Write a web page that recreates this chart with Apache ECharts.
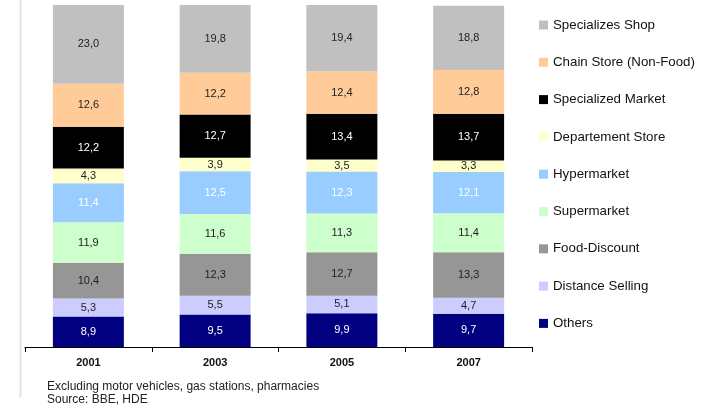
<!DOCTYPE html>
<html>
<head>
    <meta charset="utf-8">
    <title>Retail shares</title>
    <script src="https://cdn.jsdelivr.net/npm/echarts@6/dist/echarts.min.js"></script>
    <style>
        html, body { margin: 0; padding: 0; background: #fff; }
        #chart { width: 709px; height: 409px; }
    </style>
</head>
<body>
    <div id="chart"></div>
    <script>
        const years = ['2001', '2003', '2005', '2007'];
        // series, bottom of the stack first
        const others          = [8.9, 9.5, 9.9, 9.7];
        const distanceSelling = [5.3, 5.5, 5.1, 4.7];
        const foodDiscount    = [10.4, 12.3, 12.7, 13.3];
        const supermarket     = [11.9, 11.6, 11.3, 11.4];
        const hypermarket     = [11.4, 12.5, 12.3, 12.1];
        const departementStore = [4.3, 3.9, 3.5, 3.3];
        const specializedMarket = [12.2, 12.7, 13.4, 13.7];
        const chainStore      = [12.6, 12.2, 12.4, 12.8];
        const specializesShop = [23.0, 19.8, 19.4, 18.8];

        const seriesDefs = [
            { name: 'Others', data: others, color: '#000080', label: '#fff' },
            { name: 'Distance Selling', data: distanceSelling, color: '#CCCCFF', label: '#222' },
            { name: 'Food-Discount', data: foodDiscount, color: '#969696', label: '#222' },
            { name: 'Supermarket', data: supermarket, color: '#CCFFCC', label: '#222' },
            { name: 'Hypermarket', data: hypermarket, color: '#99CCFF', label: '#fff' },
            { name: 'Departement Store', data: departementStore, color: '#FFFFCC', label: '#222' },
            { name: 'Specialized Market', data: specializedMarket, color: '#000000', label: '#fff' },
            { name: 'Chain Store (Non-Food)', data: chainStore, color: '#FFCC99', label: '#222' },
            { name: 'Specializes Shop', data: specializesShop, color: '#C0C0C0', label: '#222' }
        ];

        const chart = echarts.init(document.getElementById('chart'));
        const option = {
            animation: false,
            textStyle: { fontFamily: 'Liberation Sans, Arial, sans-serif' },
            grid: { left: 25, right: 177, top: 5, bottom: 62, containLabel: false },
            legend: {
                orient: 'vertical',
                left: 539,
                top: 18,
                padding: 0,
                itemWidth: 9,
                itemHeight: 9,
                itemGap: 23.3,
                icon: 'rect',
                data: seriesDefs.map(s => s.name).reverse(),
                textStyle: { fontSize: 13.3, color: '#111', lineHeight: 14 }
            },
            xAxis: {
                type: 'category',
                data: years,
                axisLine: { lineStyle: { color: '#000', width: 1 } },
                axisTick: { show: true, length: 5, lineStyle: { color: '#000' } },
                axisLabel: { fontSize: 11, fontWeight: 'bold', color: '#111', margin: 10 }
            },
            yAxis: {
                type: 'value',
                min: 0,
                max: 100,
                show: false,
                splitLine: { show: false }
            },
            series: seriesDefs.map(s => ({
                name: s.name,
                type: 'bar',
                stack: 'total',
                barWidth: '56%',
                data: s.data,
                itemStyle: { color: s.color },
                label: {
                    show: true,
                    position: 'inside',
                    fontSize: 11,
                    color: s.label,
                    formatter: p => p.value.toFixed(1).replace('.', ',')
                }
            })),
            graphic: [
                {
                    type: 'line',
                    shape: { x1: 20.5, y1: 0, x2: 20.5, y2: 398 },
                    style: { stroke: '#e4e4e4', lineWidth: 2 }
                },
                {
                    type: 'text',
                    left: 47,
                    top: 380,
                    style: {
                        text: 'Excluding motor vehicles, gas stations, pharmacies\nSource: BBE, HDE',
                        fontSize: 12,
                        lineHeight: 13,
                        fill: '#222',
                        fontFamily: 'Liberation Sans, Arial, sans-serif'
                    }
                }
            ]
        };
        chart.setOption(option);
    </script>
</body>
</html>
